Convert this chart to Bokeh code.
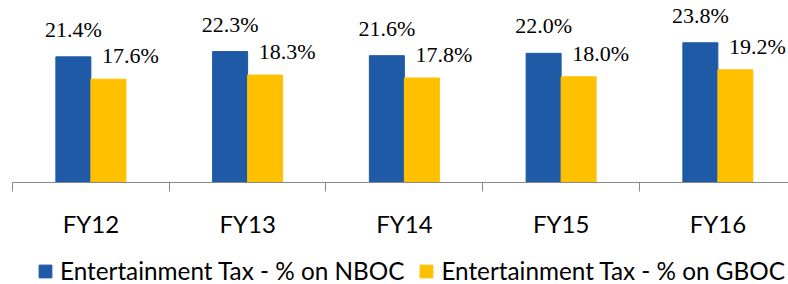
from bokeh.plotting import figure
from bokeh.layouts import column
from bokeh.models import ColumnDataSource, Range1d, FixedTicker, LabelSet, Legend, LegendItem
from bokeh.embed import file_html
from bokeh.resources import INLINE

categories = ["FY12", "FY13", "FY14", "FY15", "FY16"]
nboc = [21.4, 22.3, 21.6, 22.0, 23.8]
gboc = [17.6, 18.3, 17.8, 18.0, 19.2]
series_names = ["Entertainment Tax - % on NBOC", "Entertainment Tax - % on GBOC"]

BLUE = "#1F5AA6"
YELLOW = "#FFC000"
GRAY = "#898989"
FONT = "Lato"

centers = [i + 0.5 for i in range(len(categories))]
bw = 0.2233

src = ColumnDataSource(dict(
    xn=[c - bw / 2 for c in centers],
    xg=[c + bw / 2 for c in centers],
    nboc=nboc,
    gboc=gboc,
    ln=[f"{v:.1f}%" for v in nboc],
    lg=[f"{v:.1f}%" for v in gboc],
))

p = figure(width=788, height=240, x_range=Range1d(0, 4.9506), y_range=Range1d(0, 31.0),
           output_backend="svg", toolbar_location=None,
           min_border_left=12, min_border_right=0, min_border_top=0, min_border_bottom=53)

p.vbar(x="xn", top="nboc", width=bw, source=src, fill_color=BLUE, line_color=BLUE)
p.vbar(x="xg", top="gboc", width=bw, source=src, fill_color=YELLOW, line_color=YELLOW)

p.add_layout(LabelSet(x="xn", y="nboc", text="ln", source=src, text_align="center",
                      text_baseline="alphabetic", y_offset=20, text_font=FONT,
                      text_font_size="22px", text_color="#000000"))
p.add_layout(LabelSet(x="xg", y="gboc", text="lg", source=src, text_align="center",
                      text_baseline="alphabetic", x_offset=22, y_offset=16, text_font=FONT,
                      text_font_size="22px", text_color="#000000"))

ax = p.xaxis[0]
ax.ticker = FixedTicker(ticks=centers, minor_ticks=list(range(len(categories) + 1)))
ax.major_label_overrides = {c: cat for c, cat in zip(centers, categories)}
ax.major_tick_line_color = None
ax.major_tick_out = 0
ax.major_tick_in = 0
ax.minor_tick_out = 9
ax.minor_tick_in = 0
ax.minor_tick_line_color = GRAY
ax.axis_line_color = GRAY
ax.major_label_standoff = 17
ax.major_label_text_font = FONT
ax.major_label_text_font_size = "24px"
ax.major_label_text_color = "#000000"

p.yaxis.visible = False
p.xgrid.visible = False
p.ygrid.visible = False
p.outline_line_color = None

# legend strip (its bars lie outside its visible range; only the legend shows)
lg = figure(width=788, height=44, x_range=Range1d(100, 101), y_range=Range1d(100, 101),
            output_backend="svg", toolbar_location=None,
            min_border_left=0, min_border_right=0, min_border_top=0, min_border_bottom=0)
lg.xaxis.visible = False
lg.yaxis.visible = False
lg.xgrid.visible = False
lg.ygrid.visible = False
lg.outline_line_color = None
e1 = lg.vbar(x="xn", top="nboc", width=bw, source=src, fill_color=BLUE, line_color=BLUE)
e2 = lg.vbar(x="xg", top="gboc", width=bw, source=src, fill_color=YELLOW, line_color=YELLOW)

legend = Legend(items=[LegendItem(label=series_names[0], renderers=[e1]),
                       LegendItem(label=series_names[1], renderers=[e2])],
                orientation="horizontal", location=(25, -1),
                glyph_width=16, glyph_height=16, label_standoff=7, spacing=14,
                padding=0, margin=0, label_text_font=FONT, label_text_font_size="24.3px",
                label_text_color="#000000", border_line_color=None,
                background_fill_alpha=0)
lg.add_layout(legend, "center")

open("out.html", "w").write(file_html(column(p, lg, spacing=0), INLINE))
